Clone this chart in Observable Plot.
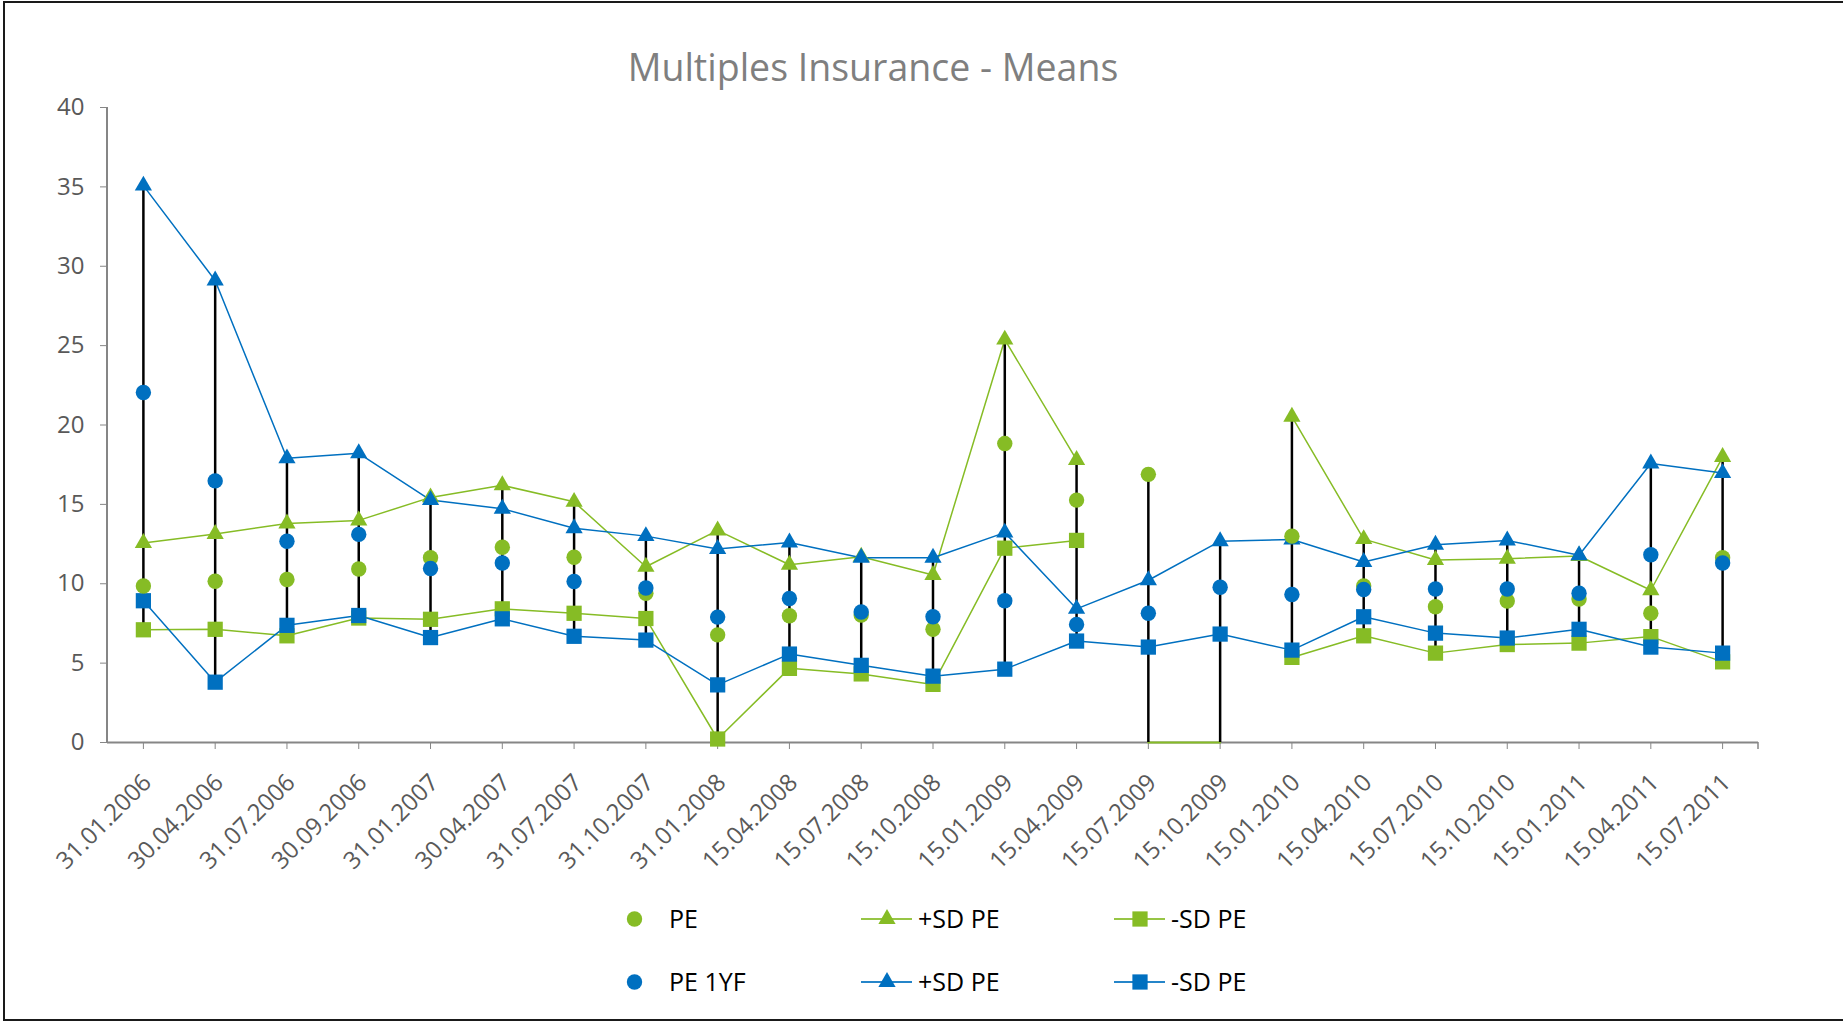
<!DOCTYPE html>
<html><head><meta charset="utf-8">
<script src="https://cdn.jsdelivr.net/npm/d3@7"></script>
<script src="https://cdn.jsdelivr.net/npm/@observablehq/plot@0.6"></script>
<style>
html,body{margin:0;padding:0;background:#fff;}
#wrap{position:relative;width:1843px;height:1022px;overflow:hidden;font-family:"Open Sans",sans-serif;background:#fff;}
#frame{position:absolute;left:3px;top:1px;width:1900px;height:1020px;border:2px solid #1a1a1a;box-sizing:border-box;}
#chart{position:absolute;left:0;top:0;}
#title{position:absolute;top:48px;left:0;width:1746px;text-align:center;font-size:37.5px;line-height:37px;color:#7f7f7f;white-space:nowrap;}
#legsvg{position:absolute;left:0;top:880px;}
.leg{position:absolute;font-size:25px;line-height:25px;color:#000;white-space:nowrap;}
</style></head>
<body><div id="wrap"><div id="frame"></div><div id="chart"></div><div id="title">Multiples Insurance - Means</div><div id="legend"></div></div>
<script>
const dates = ["31.01.2006","30.04.2006","31.07.2006","30.09.2006","31.01.2007","30.04.2007","31.07.2007","31.10.2007","31.01.2008","15.04.2008","15.07.2008","15.10.2008","15.01.2009","15.04.2009","15.07.2009","15.10.2009","15.01.2010","15.04.2010","15.07.2010","15.10.2010","15.01.2011","15.04.2011","15.07.2011"];
const pe          = [9.86,10.16,10.27,10.93,11.64,12.3,11.67,9.4,6.78,7.98,8.03,7.13,18.83,15.27,16.89,null,13.0,9.86,8.55,8.91,9.04,8.14,11.64];
const pePlusSD    = [12.57,13.14,13.8,13.99,15.44,16.2,15.16,11.07,13.36,11.2,11.7,10.55,25.38,17.8,null,null,20.52,12.81,11.5,11.58,11.75,9.59,17.98];
const peMinusSD   = [7.1,7.13,6.72,7.84,7.76,8.42,8.14,7.81,0.22,4.67,4.32,3.66,12.24,12.73,null,null,5.36,6.72,5.63,6.17,6.26,6.67,5.08];
const zeroDates   = ["15.07.2009","15.10.2009"];
const zeroValues  = [0,0];
const pe1yf       = [22.05,16.48,12.68,13.11,10.96,11.31,10.14,9.73,7.9,9.07,8.22,7.92,8.93,7.43,8.14,9.78,9.32,9.64,9.67,9.67,9.4,11.83,11.31];
const pe1yfPlusSD = [35.08,29.1,17.9,18.22,15.27,14.73,13.5,13.0,12.19,12.6,11.64,11.64,13.22,8.42,10.22,12.68,12.79,11.37,12.46,12.73,11.8,17.57,16.97];
const pe1yfMinusSD= [8.93,3.8,7.38,8.0,6.61,7.79,6.69,6.45,3.63,5.57,4.86,4.18,4.62,6.39,6.01,6.83,5.82,7.92,6.89,6.58,7.13,6.01,5.63];
const yTicks = [0,5,10,15,20,25,30,35,40];

const green = "#86BC25", blue = "#0070C0";
const rows = vals => dates.map((d,i)=>({date:d, value:vals[i]}));
const defined = vals => rows(vals).filter(r => r.value != null);

const rTri = 6.4, rSq = 8.6, rCirc = 7.7;
const series = [
  {name:"+SD PE", vals:pePlusSD, color:green, symbol:"triangle", r:rTri, line:true},
  {name:"-SD PE", vals:peMinusSD, color:green, symbol:"square", r:rSq, line:true},
  {name:"+SD PE", vals:pe1yfPlusSD, color:blue, symbol:"triangle", r:rTri, line:true},
  {name:"-SD PE", vals:pe1yfMinusSD, color:blue, symbol:"square", r:rSq, line:true},
  {name:"PE", vals:pe, color:green, symbol:"circle", r:rCirc, line:false},
  {name:"PE 1YF", vals:pe1yf, color:blue, symbol:"circle", r:rCirc, line:false}
];
const zeroRows = zeroDates.map((d,i)=>({date:d, value:zeroValues[i]}));

const hl = dates.map((d,i) => {
  const v = series.map(s => s.vals[i]).filter(x => x != null);
  zeroDates.forEach((z,j) => { if (z === d) v.push(zeroValues[j]); });
  return {date:d, low:d3.min(v), high:d3.max(v)};
});

const marks = [
  Plot.axisY(yTicks, {tickSize:7, tickPadding:16, fontSize:24, label:null, stroke:"#868686", fill:"#595959"}),
  Plot.axisX({tickSize:7, tickFormat:() => "", label:null, stroke:"#868686"}),
  Plot.axisX({tickRotate:-45, tickSize:0, tickPadding:36, dx:4, fontSize:24, label:null, fill:"#595959"}),
  Plot.ruleY([0], {stroke:"#868686", strokeWidth:2})
];
series.filter(s=>s.line).forEach(s => marks.push(Plot.line(rows(s.vals), {x:"date", y:"value", stroke:s.color, strokeWidth:1.5})));
marks.push(Plot.line(zeroRows, {x:"date", y:"value", stroke:green, strokeWidth:2}));
marks.push(Plot.ruleX(hl, {x:"date", y1:"low", y2:"high", stroke:"#000", strokeWidth:2.5}));
series.forEach(s => marks.push(Plot.dot(defined(s.vals), {x:"date", y:"value", symbol:s.symbol, r:s.r, fill:s.color, stroke:"none"})));

const chart = Plot.plot({
  width:1843, height:880,
  marginTop:107, marginBottom:138, marginLeft:107, marginRight:85,
  style:{fontFamily:"Open Sans", background:"transparent", overflow:"visible"},
  x:{type:"point", domain:dates, padding:0.5, round:false, label:null},
  y:{domain:[0,40], label:null},
  marks
});
document.getElementById("chart").appendChild(chart);

const xs = chart.scale("x"), ys = chart.scale("y");
const [xr0, xr1] = xs.range;
const svg = d3.select(chart);
svg.append("line").attr("x1",xr0).attr("x2",xr0).attr("y1",ys.apply(0)).attr("y2",ys.apply(40)).attr("stroke","#868686").attr("stroke-width",2);
svg.append("line").attr("x1",xr1).attr("x2",xr1).attr("y1",ys.apply(0)).attr("y2",ys.apply(0)+7).attr("stroke","#868686").attr("stroke-width",1.5);

const legendItems = [
  {name:"PE", color:green, symbol:d3.symbolCircle, size:Math.PI*rCirc*rCirc, line:false, col:0, row:0},
  {name:"+SD PE", color:green, symbol:d3.symbolTriangle, size:Math.PI*rTri*rTri, line:true, col:1, row:0},
  {name:"-SD PE", color:green, symbol:d3.symbolSquare, size:Math.PI*rSq*rSq, line:true, col:2, row:0},
  {name:"PE 1YF", color:blue, symbol:d3.symbolCircle, size:Math.PI*rCirc*rCirc, line:false, col:0, row:1},
  {name:"+SD PE", color:blue, symbol:d3.symbolTriangle, size:Math.PI*rTri*rTri, line:true, col:1, row:1},
  {name:"-SD PE", color:blue, symbol:d3.symbolSquare, size:Math.PI*rSq*rSq, line:true, col:2, row:1}
];
const colMarker = [634.5, 887, 1140], colLine = [null, [861,912], [1114,1165]], colText = [669, 918, 1171];
const rowY = [919, 982];
const legTop = 880;
const lsvg = d3.select("#legend").append("svg").attr("id","legsvg").attr("width",1843).attr("height",142);
const legDiv = d3.select("#legend");
legendItems.forEach(it => {
  const cy = rowY[it.row] - legTop;
  if (it.line) {
    const [a,b] = colLine[it.col];
    lsvg.append("line").attr("x1",a).attr("x2",b).attr("y1",cy).attr("y2",cy).attr("stroke",it.color).attr("stroke-width",2).attr("opacity",0.85);
  }
  lsvg.append("path").attr("d", d3.symbol(it.symbol, it.size)()).attr("transform",`translate(${colMarker[it.col]},${cy})`).attr("fill",it.color);
  legDiv.append("div").attr("class","leg").style("left",colText[it.col]+"px").style("top",(rowY[it.row]-13)+"px").text(it.name);
});
</script></body></html>
